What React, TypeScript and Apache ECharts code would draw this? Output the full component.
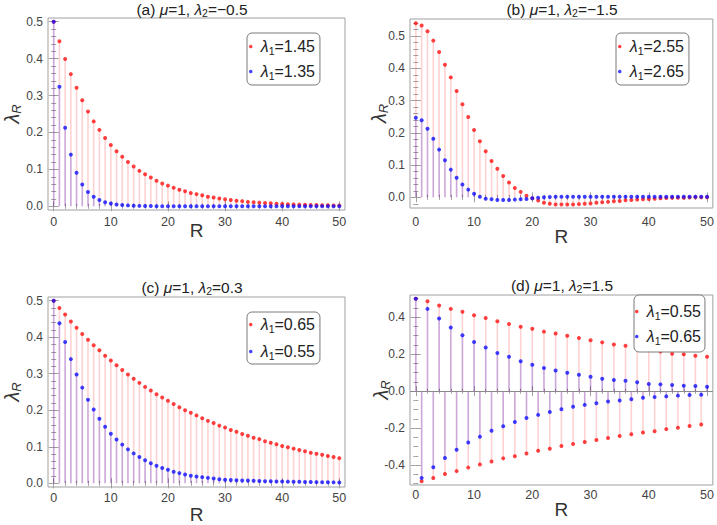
import React, { useEffect, useRef } from 'react';
import * as echarts from 'echarts';

// ---------------- data ----------------
const R = [0,1,2,3,4,5,6,7,8,9,10,11,12,13,14,15,16,17,18,19,20,21,22,23,24,25,26,27,28,29,30,31,32,33,34,35,36,37,38,39,40,41,42,43,44,45,46,47,48,49,50];

// (a) mu=1, lambda2=-0.5
const A_RED = [0.5,0.447,0.399,0.358,0.321,0.287,0.257,0.230,0.207,0.185,0.166,0.149,0.134,0.120,0.108,0.096,0.087,0.078,0.069,0.062,0.056,0.050,0.045,0.041,0.036,0.033,0.030,0.026,0.024,0.021,0.019,0.017,0.015,0.014,0.012,0.011,0.010,0.009,0.008,0.0072,0.0065,0.0058,0.0052,0.0046,0.0042,0.0037,0.0033,0.0030,0.0027,0.0024,0.0021];
const A_BLUE = [0.5,0.324,0.213,0.140,0.091,0.059,0.039,0.026,0.017,0.011,0.0075,0.005,0.0035,0.0025,0.0018,0.0012,0.0009,0.0006,0.0004,0.0003,0.0002,0.0001,0.0001,0,0,0,0,0,0,0,0,0,0,0,0,0,0,0,0,0,0,0,0,0,0,0,0,0,0,0,0];

// (b) mu=1, lambda2=-1.5
const B_RED = [0.540,0.533,0.515,0.486,0.451,0.411,0.372,0.330,0.289,0.249,0.209,0.174,0.143,0.113,0.089,0.066,0.046,0.029,0.017,0.005,-0.003,-0.010,-0.017,-0.020,-0.022,-0.022,-0.022,-0.022,-0.021,-0.020,-0.019,-0.017,-0.015,-0.014,-0.012,-0.011,-0.009,-0.008,-0.007,-0.006,-0.005,-0.004,-0.003,-0.002,-0.0015,-0.001,-0.001,-0.0005,0,0,0];
const B_BLUE = [0.247,0.239,0.213,0.182,0.148,0.115,0.086,0.061,0.040,0.024,0.011,0.002,-0.004,-0.006,-0.008,-0.008,-0.008,-0.007,-0.006,-0.005,-0.003,-0.001,0,0.001,0.002,0.002,0.002,0.002,0.002,0.002,0.002,0.002,0.002,0.002,0.002,0.002,0.002,0.002,0.002,0.002,0.002,0.002,0.002,0.002,0.002,0.002,0.002,0.002,0.002,0.002,0.002];

// (c) mu=1, lambda2=0.3
const C_RED = [0.5,0.480,0.462,0.443,0.426,0.409,0.393,0.378,0.364,0.349,0.336,0.323,0.310,0.298,0.286,0.275,0.264,0.254,0.244,0.235,0.226,0.217,0.208,0.200,0.193,0.186,0.178,0.171,0.165,0.158,0.153,0.146,0.141,0.135,0.130,0.125,0.121,0.115,0.111,0.107,0.102,0.099,0.095,0.091,0.088,0.084,0.081,0.078,0.075,0.072,0.069];
const C_BLUE = [0.5,0.438,0.387,0.340,0.298,0.262,0.229,0.202,0.177,0.155,0.136,0.120,0.106,0.093,0.082,0.072,0.063,0.055,0.048,0.042,0.037,0.032,0.028,0.024,0.021,0.019,0.017,0.015,0.013,0.011,0.010,0.009,0.0085,0.008,0.0075,0.007,0.0065,0.006,0.0055,0.0052,0.005,0.0047,0.0044,0.0041,0.0038,0.0035,0.0033,0.0031,0.0029,0.0027,0.0025];

// (d) mu=1, lambda2=1.5
const D_RED = [0.5,-0.487,0.486,-0.469,0.463,-0.448,0.445,-0.432,0.430,-0.413,0.411,-0.396,0.396,-0.380,0.378,-0.363,0.363,-0.352,0.348,-0.337,0.337,-0.322,0.322,-0.311,0.312,-0.296,0.300,-0.285,0.288,-0.275,0.275,-0.264,0.264,-0.253,0.253,-0.242,0.246,-0.233,0.236,-0.223,0.226,-0.216,0.214,-0.205,0.203,-0.197,0.200,-0.188,0.192,-0.180,0.186];
const D_BLUE = [0.5,-0.469,0.445,-0.411,0.393,-0.361,0.344,-0.316,0.303,-0.277,0.266,-0.246,0.236,-0.214,0.207,-0.190,0.186,-0.167,0.162,-0.145,0.143,-0.128,0.125,-0.112,0.112,-0.097,0.100,-0.084,0.089,-0.074,0.078,-0.065,0.067,-0.056,0.061,-0.050,0.056,-0.043,0.048,-0.035,0.039,-0.032,0.037,-0.028,0.033,-0.024,0.030,-0.020,0.028,-0.019,0.024];

// tick labels
const X_MAJOR = [0,10,20,30,40,50];
const X_MINOR = [2,4,6,8,12,14,16,18,22,24,26,28,32,34,36,38,42,44,46,48];
const Y_MAJOR_ABC = [0,0.1,0.2,0.3,0.4,0.5];
const Y_MAJOR_D = [-0.4,-0.2,0,0.2,0.4];

// legend labels (lambda_1 values)
const A_LAMBDA1 = ['1.45','1.35'];
const B_LAMBDA1 = ['2.55','2.65'];
const C_LAMBDA1 = ['0.65','0.55'];
const D_LAMBDA1 = ['0.55','0.65'];

// titles
const A_TITLE = '(a) {i|μ}=1, {i|λ}{s|2}=−0.5';
const B_TITLE = '(b) {i|μ}=1, {i|λ}{s|2}=−1.5';
const C_TITLE = '(c) {i|μ}=1, {i|λ}{s|2}=0.3';
const D_TITLE = '(d) {i|μ}=1, {i|λ}{s|2}=1.5';

// ---------------- layout / style ----------------
const FONT = '"Liberation Sans", Arial, sans-serif';
const FRAME = '#a0a0a0';
const TICKTXT = '#444';
const RED = '#ff1010';
const BLUE = '#1010ff';
const RED_STEM = 'rgba(255,0,0,0.18)';
const BLUE_STEM = 'rgba(0,0,255,0.2)';

const PANELS = [
  { key: 'a', grid: { left: 39, top: 18, width: 306, height: 192 }, yMin: -0.01, yMax: 0.51, yMajor: Y_MAJOR_ABC, yStep: 0.02,
    red: A_RED, blue: A_BLUE, lam: A_LAMBDA1, title: A_TITLE, titlePos: [192, 9],
    xLabelMargin: 5, xNameGap: 11, yNameGap: 25,
    legend: { left: 247, top: 33, gap: 6, pad: [4, 5, 4, 2] }, zero: false },
  { key: 'b', grid: { left: 410, top: 19, width: 305, height: 189 }, yMin: -0.033, yMax: 0.553, yMajor: Y_MAJOR_ABC, yStep: 0.02,
    red: B_RED, blue: B_BLUE, lam: B_LAMBDA1, title: B_TITLE, titlePos: [562, 9],
    xLabelMargin: 7, xNameGap: 19, yNameGap: 20,
    legend: { left: 616, top: 33, gap: 6, pad: [4, 5, 4, 2] }, zero: false },
  { key: 'c', grid: { left: 39, top: 297, width: 306, height: 193 }, yMin: -0.01, yMax: 0.51, yMajor: Y_MAJOR_ABC, yStep: 0.02,
    red: C_RED, blue: C_BLUE, lam: C_LAMBDA1, title: C_TITLE, titlePos: [192, 287],
    xLabelMargin: 4, xNameGap: 18, yNameGap: 25,
    legend: { left: 247, top: 312, gap: 8, pad: [3, 5, 3, 2] }, zero: false },
  { key: 'd', grid: { left: 410, top: 295, width: 305, height: 190 }, yMin: -0.507, yMax: 0.52, yMajor: Y_MAJOR_D, yStep: 0.05,
    red: D_RED, blue: D_BLUE, lam: D_LAMBDA1, title: D_TITLE, titlePos: [562, 285],
    xLabelMargin: 3, xNameGap: 15, yNameGap: 18,
    legend: { left: 634, top: 295, gap: 6, pad: [7, 4, 6, 1] }, zero: true },
];

function minorTicks(majors: number[], step: number, min: number, max: number) {
  const out: number[] = [];
  const start = Math.ceil(min / step);
  const end = Math.floor(max / step);
  for (let k = start; k <= end; k++) {
    const v = Math.round(k * step * 1e6) / 1e6;
    if (!majors.some((m) => Math.abs(m - v) < 1e-6)) out.push(v);
  }
  return out;
}

function stemSeries(name: string, idx: number, data: number[], color: string, z: number) {
  return {
    type: 'custom',
    name,
    xAxisIndex: idx,
    yAxisIndex: idx,
    silent: true,
    z,
    data: R.map((r, i) => [r, data[i]]),
    renderItem: (_params: any, api: any) => {
      const x = api.value(0);
      const y = api.value(1);
      const p0 = api.coord([x, 0]);
      const p1 = api.coord([x, y]);
      return {
        type: 'line',
        shape: { x1: p0[0], y1: p0[1], x2: p1[0], y2: p1[1] },
        style: { stroke: color, lineWidth: 1.6 },
      };
    },
  };
}

function buildOption() {
  const xAxis: any[] = [];
  const yAxis: any[] = [];
  const series: any[] = [];
  const legend: any[] = [];
  const graphic: any[] = [];
  const legendText: Record<string, string> = {};

  PANELS.forEach((p, i) => {
    const xb = { gridIndex: i, type: 'value', min: -1, max: 51, axisLine: { show: false }, splitLine: { show: false } };
    const tickMaj = (vals: number[]) => ({ show: true, inside: true, length: 5, customValues: vals, lineStyle: { color: FRAME, width: 1 } });
    const tickMin = (vals: number[]) => ({ show: true, inside: true, length: 2.5, customValues: vals, lineStyle: { color: FRAME, width: 1 } });

    xAxis.push({
      ...xb, position: 'bottom',
      axisTick: tickMaj(X_MAJOR),
      axisLabel: { show: true, customValues: X_MAJOR, margin: p.xLabelMargin, fontSize: 12.5, color: TICKTXT, fontFamily: FONT },
      name: 'R', nameLocation: 'middle', nameGap: p.xNameGap, nameMoveOverlap: false,
      nameTextStyle: { fontSize: 19, color: '#333', fontFamily: FONT, verticalAlign: 'top' },
    });
    xAxis.push({ ...xb, position: 'bottom', axisTick: tickMin(X_MINOR), axisLabel: { show: false } });
    xAxis.push({ ...xb, position: 'top', axisTick: tickMaj(X_MAJOR), axisLabel: { show: false } });
    xAxis.push({ ...xb, position: 'top', axisTick: tickMin(X_MINOR), axisLabel: { show: false } });

    const yMinor = minorTicks(p.yMajor, p.yStep, p.yMin, p.yMax);
    const yb = { gridIndex: i, type: 'value', min: p.yMin, max: p.yMax, axisLine: { show: false }, splitLine: { show: false } };
    yAxis.push({
      ...yb, position: 'left',
      axisTick: tickMaj(p.yMajor),
      axisLabel: { show: true, customValues: p.yMajor, margin: 5, fontSize: 12, color: TICKTXT, fontFamily: FONT,
        formatter: (v: number) => v.toFixed(1) },
      name: '{l|λ}{s|R}', nameLocation: 'middle', nameGap: p.yNameGap, nameRotate: 90, nameMoveOverlap: false,
      nameTextStyle: {
        fontSize: 20, color: '#333', fontFamily: FONT,
        rich: {
          l: { fontSize: 20, fontStyle: 'italic', fontFamily: FONT, color: '#333', lineHeight: 22 },
          s: { fontSize: 13, fontStyle: 'italic', fontFamily: FONT, color: '#333', lineHeight: 22, padding: [9, 0, 0, 0] },
        },
      },
    });
    yAxis.push({ ...yb, position: 'left', axisTick: tickMin(yMinor), axisLabel: { show: false } });
    yAxis.push({ ...yb, position: 'right', axisTick: tickMaj(p.yMajor), axisLabel: { show: false } });
    yAxis.push({ ...yb, position: 'right', axisTick: tickMin(yMinor), axisLabel: { show: false } });

    const ai = i * 4;
    series.push(stemSeries(p.key + '-redstem', ai, p.red, RED_STEM, 1));
    series.push(stemSeries(p.key + '-bluestem', ai, p.blue, BLUE_STEM, 2));
    const redName = p.key + '1';
    const blueName = p.key + '2';
    legendText[redName] = '{l|λ}{s|1}{n|=' + p.lam[0] + '}';
    legendText[blueName] = '{l|λ}{s|1}{n|=' + p.lam[1] + '}';
    const redScatter: any = {
      type: 'scatter', name: redName, xAxisIndex: ai, yAxisIndex: ai, z: 3,
      symbol: 'circle', symbolSize: 4, itemStyle: { color: RED },
      data: R.map((r, k) => [r, p.red[k]]),
      silent: true,
    };
    if (p.zero) {
      redScatter.markLine = {
        silent: true, symbol: ['none', 'none'], label: { show: false },
        lineStyle: { color: '#8a8a8a', width: 1.2, type: 'solid' },
        data: [{ yAxis: 0 }],
      };
    }
    series.push(redScatter);
    series.push({
      type: 'scatter', name: blueName, xAxisIndex: ai, yAxisIndex: ai, z: 4,
      symbol: 'circle', symbolSize: 4, itemStyle: { color: BLUE },
      data: R.map((r, k) => [r, p.blue[k]]),
      silent: true,
    });

    legend.push({
      show: true,
      data: [{ name: redName, icon: 'circle' }, { name: blueName, icon: 'circle' }],
      left: p.legend.left, top: p.legend.top,
      orient: 'vertical', selectedMode: false,
      itemWidth: 10, itemHeight: 3.5, itemGap: p.legend.gap,
      padding: p.legend.pad,
      backgroundColor: '#ffffff', borderColor: '#7a7a7a', borderWidth: 1, borderRadius: 5,
      formatter: (name: string) => legendText[name],
      textStyle: {
        fontSize: 16, color: '#222', fontFamily: FONT,
        rich: {
          l: { fontSize: 16, fontStyle: 'italic', fontFamily: FONT, color: '#222', lineHeight: 18 },
          s: { fontSize: 10.5, fontFamily: FONT, color: '#222', lineHeight: 18, padding: [8, 0, 0, 0] },
          n: { fontSize: 16, fontFamily: FONT, color: '#222', lineHeight: 18 },
        },
      },
    });

    graphic.push({
      type: 'text', x: p.titlePos[0], y: p.titlePos[1], silent: true,
      style: {
        text: p.title, align: 'center', verticalAlign: 'middle',
        fontSize: 15.5, fontFamily: FONT, fill: '#222',
        rich: {
          i: { fontSize: 15.5, fontStyle: 'italic', fontFamily: FONT, fill: '#222' },
          s: { fontSize: 10.5, fontFamily: FONT, fill: '#222', padding: [7, 0, 0, 0] },
        },
      },
    });
  });

  return {
    animation: false,
    backgroundColor: '#ffffff',
    grid: PANELS.map((p) => ({ ...p.grid, show: true, borderColor: FRAME, borderWidth: 1, backgroundColor: 'transparent', containLabel: false })),
    xAxis, yAxis, series, legend, graphic,
  };
}

export default function App() {
  const ref = useRef<HTMLDivElement>(null);
  useEffect(() => {
    if (!ref.current) return;
    const chart = echarts.init(ref.current, undefined, { renderer: 'svg' });
    chart.setOption(buildOption() as any);
    return () => chart.dispose();
  }, []);
  return (
    <div
      ref={ref}
      style={{ position: 'fixed', left: 0, top: 0, width: 717, height: 525, background: '#fff' }}
    />
  );
}
